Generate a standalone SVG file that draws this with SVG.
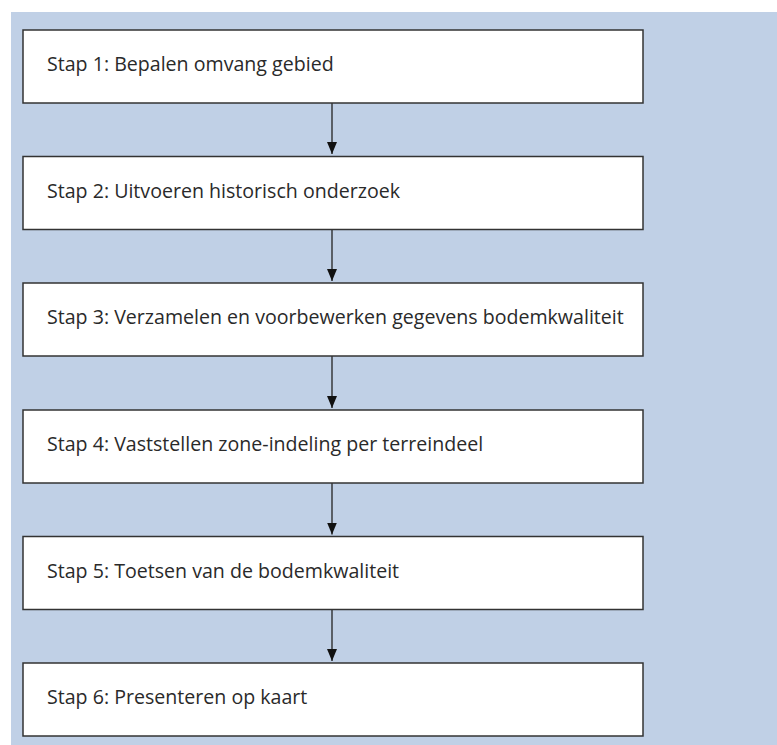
<svg xmlns="http://www.w3.org/2000/svg" width="777" height="745" viewBox="0 0 777 745">
<defs>
<style>
.box{fill:#fff;stroke:#333;stroke-width:1.5}
.lbl{font-family:"Open Sans","Noto Sans",sans-serif;font-size:19.6px;fill:#2a2a2a}
.con{stroke:#222;stroke-width:1.3;fill:none}
</style>
<marker id="ah" markerWidth="12" markerHeight="10" refX="12" refY="5" orient="auto" markerUnits="userSpaceOnUse" viewBox="0 0 12 10">
<path d="M0,0 L12,5 L0,10 Z" fill="#111"/>
</marker>
</defs>
<rect x="11" y="12" width="766" height="733" fill="#C0D0E6"/>
<g id="connectors">
<line class="con" x1="332" y1="103" x2="332" y2="154" marker-end="url(#ah)"/>
<line class="con" x1="332" y1="229.5" x2="332" y2="281" marker-end="url(#ah)"/>
<line class="con" x1="332" y1="356" x2="332" y2="408" marker-end="url(#ah)"/>
<line class="con" x1="332" y1="483" x2="332" y2="534.5" marker-end="url(#ah)"/>
<line class="con" x1="332" y1="609.5" x2="332" y2="661" marker-end="url(#ah)"/>
</g>
<g id="step1"><rect class="box" x="23" y="30" width="620" height="73"/><text class="lbl" x="47" y="71">Stap 1: Bepalen omvang gebied</text></g>
<g id="step2"><rect class="box" x="23" y="156.5" width="620" height="73"/><text class="lbl" x="47" y="197.5">Stap 2: Uitvoeren historisch onderzoek</text></g>
<g id="step3"><rect class="box" x="23" y="283" width="620" height="73"/><text class="lbl" x="47" y="324">Stap 3: Verzamelen en voorbewerken gegevens bodemkwaliteit</text></g>
<g id="step4"><rect class="box" x="23" y="410" width="620" height="73"/><text class="lbl" x="47" y="451">Stap 4: Vaststellen zone-indeling per terreindeel</text></g>
<g id="step5"><rect class="box" x="23" y="536.5" width="620" height="73"/><text class="lbl" x="47" y="577.5">Stap 5: Toetsen van de bodemkwaliteit</text></g>
<g id="step6"><rect class="box" x="23" y="663" width="620" height="73"/><text class="lbl" x="47" y="704">Stap 6: Presenteren op kaart</text></g>
</svg>
